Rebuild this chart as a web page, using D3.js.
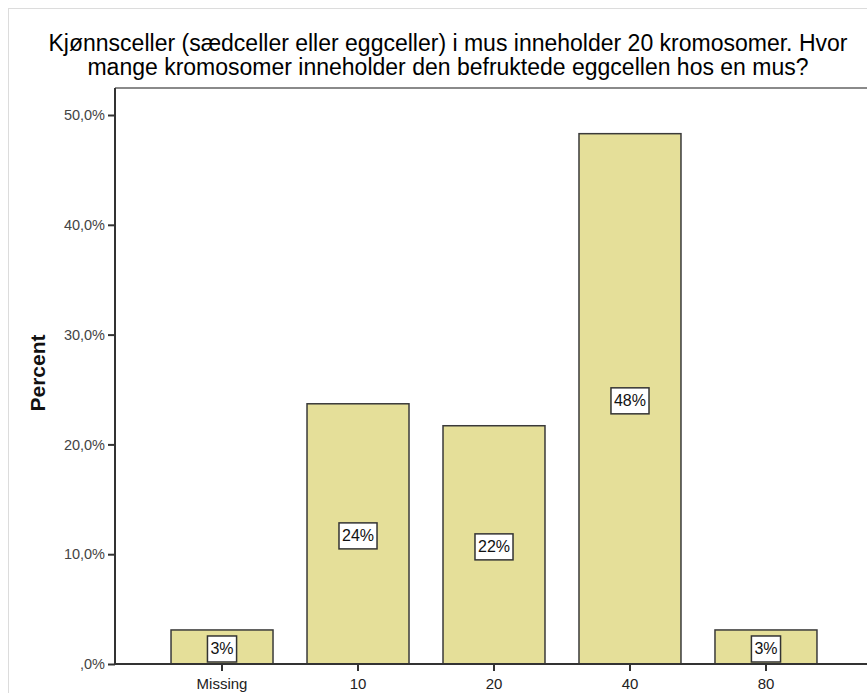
<!DOCTYPE html>
<html>
<head>
<meta charset="utf-8">
<script src="https://cdn.jsdelivr.net/npm/d3@7"></script>
<style>
  html, body { margin: 0; padding: 0; background: #fff; }
  svg { display: block; font-family: Arial, "Liberation Sans", sans-serif; }
</style>
</head>
<body>
<svg id="chart" width="867" height="693"></svg>
<script>
const titleLines = [
  "Kjønnsceller (sædceller eller eggceller) i mus inneholder 20 kromosomer. Hvor",
  "mange kromosomer inneholder den befruktede eggcellen hos en mus?"
];
const categories = ["Missing", "10", "20", "40", "80"];
const percents = [3.1, 23.7, 21.7, 48.3, 3.1];
const barLabels = ["3%", "24%", "22%", "48%", "3%"];
const yTicks = [0, 10, 20, 30, 40, 50];
const yTickLabels = [",0%", "10,0%", "20,0%", "30,0%", "40,0%", "50,0%"];
const yTitle = "Percent";

const svg = d3.select("#chart");
const W = 867, H = 693;
const plot = { left: 115, right: 873, top: 88, bottom: 664 };

// outer light frame
svg.append("rect").attr("x", 8.5).attr("y", 8.5).attr("width", W).attr("height", H)
  .attr("fill", "none").attr("stroke", "#dcdcdc").attr("stroke-width", 1);

// title
titleLines.forEach((t, i) => {
  svg.append("text").attr("text-anchor", "middle")
    .attr("font-size", 23).attr("fill", "#000")
    .attr("x", 448).attr("y", 51 + i * 24).text(t);
});

const y = d3.scaleLinear().domain([0, 52.46]).range([plot.bottom, plot.top]);
const x = d3.scaleBand().domain(categories).range([plot.left, plot.right])
  .paddingInner(0.25).paddingOuter(0.412);

// top frame line
svg.append("line").attr("x1", plot.left).attr("x2", W).attr("y1", plot.top).attr("y2", plot.top)
  .attr("stroke", "#8a8a8a").attr("stroke-width", 2);

// bars
svg.append("g").selectAll("rect").data(categories).join("rect")
  .attr("x", d => x(d)).attr("width", x.bandwidth())
  .attr("y", (d, i) => y(percents[i]))
  .attr("height", (d, i) => y(0) - y(percents[i]))
  .attr("fill", "#e5df99").attr("stroke", "#3a3a3a").attr("stroke-width", 1.5);

// y axis
const yAxis = d3.axisLeft(y).tickValues(yTicks).tickSize(7).tickPadding(3)
  .tickFormat((d, i) => yTickLabels[i]);
const gy = svg.append("g").attr("transform", `translate(${plot.left},0)`).call(yAxis);
gy.select(".domain").attr("stroke", "#333").attr("stroke-width", 2)
  .attr("d", `M0,${plot.top}V${plot.bottom}`);
gy.selectAll(".tick line").attr("stroke", "#333").attr("stroke-width", 2);
gy.selectAll(".tick text").attr("font-size", 14.5).attr("fill", "#444")
  .attr("font-family", "Arial, 'Liberation Sans', sans-serif");

// x axis
const xAxis = d3.axisBottom(x).tickSize(7).tickPadding(7);
const gx = svg.append("g").attr("transform", `translate(0,${plot.bottom})`).call(xAxis);
gx.select(".domain").attr("stroke", "#333").attr("stroke-width", 2)
  .attr("d", `M${plot.left},0H${W}`);
gx.selectAll(".tick line").attr("stroke", "#333").attr("stroke-width", 2);
gx.selectAll(".tick text").attr("font-size", 15).attr("fill", "#222")
  .attr("font-family", "Arial, 'Liberation Sans', sans-serif");

// y title
svg.append("text").attr("transform", "translate(45,373) rotate(-90)")
  .attr("text-anchor", "middle").attr("font-size", 21).attr("font-weight", "bold")
  .attr("fill", "#111").text(yTitle);

// bar value labels
const lg = svg.append("g");
categories.forEach((c, i) => {
  const cx = x(c) + x.bandwidth() / 2;
  const cy = (y(percents[i]) + y(0)) / 2 + 2;
  const g = lg.append("g");
  const rect = g.append("rect");
  const t = g.append("text").attr("x", cx).attr("y", cy)
    .attr("text-anchor", "middle").attr("dominant-baseline", "central")
    .attr("font-size", 16).attr("fill", "#111").text(barLabels[i]);
  const bb = t.node().getBBox();
  rect.attr("x", bb.x - 3).attr("y", cy - 13).attr("width", bb.width + 6).attr("height", 26)
    .attr("fill", "#fff").attr("stroke", "#333").attr("stroke-width", 1.5);
});
</script>
</body>
</html>
